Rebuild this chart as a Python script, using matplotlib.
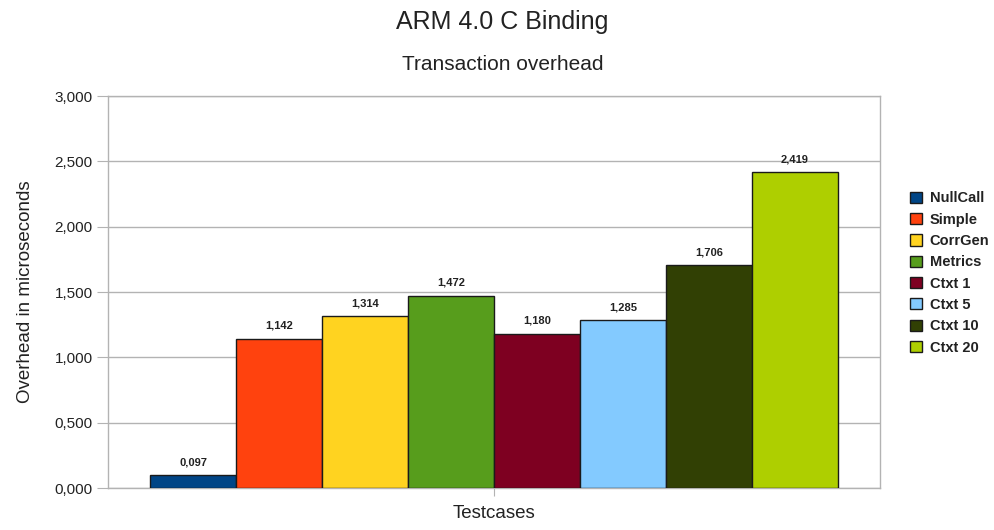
import matplotlib
matplotlib.use("Agg")
import matplotlib.pyplot as plt
from matplotlib.ticker import FuncFormatter, MultipleLocator

plt.rcParams['font.family'] = ['Liberation Sans', 'DejaVu Sans']

series = ['NullCall', 'Simple', 'CorrGen', 'Metrics', 'Ctxt 1', 'Ctxt 5', 'Ctxt 10', 'Ctxt 20']
values = [0.097, 1.142, 1.314, 1.472, 1.180, 1.285, 1.706, 2.419]
colors = ['#004586', '#ff420e', '#ffd320', '#579d1c', '#7e0021', '#83caff', '#314004', '#aecf00']


def comma(v, pos=None):
    return f"{v:.3f}".replace('.', ',')


fig = plt.figure(figsize=(9.95, 5.3), dpi=100)
ax = fig.add_axes([108 / 995, 42 / 530, 772 / 995, 392 / 530])

n = len(series)
for i, (name, v, c) in enumerate(zip(series, values, colors)):
    x = i - (n - 1) / 2
    ax.bar(x, v, width=1.0, color=c, edgecolor='#1a1a1a', linewidth=1.0, label=name, zorder=3)
    ax.text(x, v + 0.06, comma(v), ha='center', va='bottom', fontsize=8,
            fontweight='bold', fontstretch='condensed', color='#222222')

ax.set_xlim(-n / 2 - 0.49, n / 2 + 0.49)
ax.set_ylim(0, 3)
ax.yaxis.set_major_locator(MultipleLocator(0.5))
ax.yaxis.set_major_formatter(FuncFormatter(comma))
ax.set_xticks([0])
ax.set_xticklabels([''])
ax.tick_params(axis='x', length=6, color='#b3b3b3', direction='out')
ax.tick_params(axis='y', length=8, color='#b3b3b3', labelsize=11, labelcolor='#222222',
               pad=3, direction='out')
ax.grid(axis='y', color='#b3b3b3', linewidth=1, zorder=0)
for s in ax.spines.values():
    s.set_color('#b3b3b3')
    s.set_linewidth(1)

ax.set_xlabel('Testcases', fontsize=13.5, labelpad=3, color='#222222')
ax.set_ylabel('Overhead in microseconds', fontsize=13.5, labelpad=15, color='#222222')

fig.text(0.5 + 5 / 995, 1 - 22 / 530, 'ARM 4.0 C Binding', ha='center', va='center',
         fontsize=18, color='#222222')
fig.text(0.5 + 5 / 995, 1 - 64 / 530, 'Transaction overhead', ha='center', va='center',
         fontsize=15, color='#222222')

leg = ax.legend(loc='center left', bbox_to_anchor=((910 - 108) / 772, (488 - 273) / 392),
                frameon=False, fontsize=10.5, handlelength=0.8, handleheight=0.8,
                handletextpad=0.55, labelspacing=0.5, borderaxespad=0, borderpad=0)
for t in leg.get_texts():
    t.set_fontweight('bold')
    t.set_color('#222222')

fig.savefig('out.png', dpi=100)
